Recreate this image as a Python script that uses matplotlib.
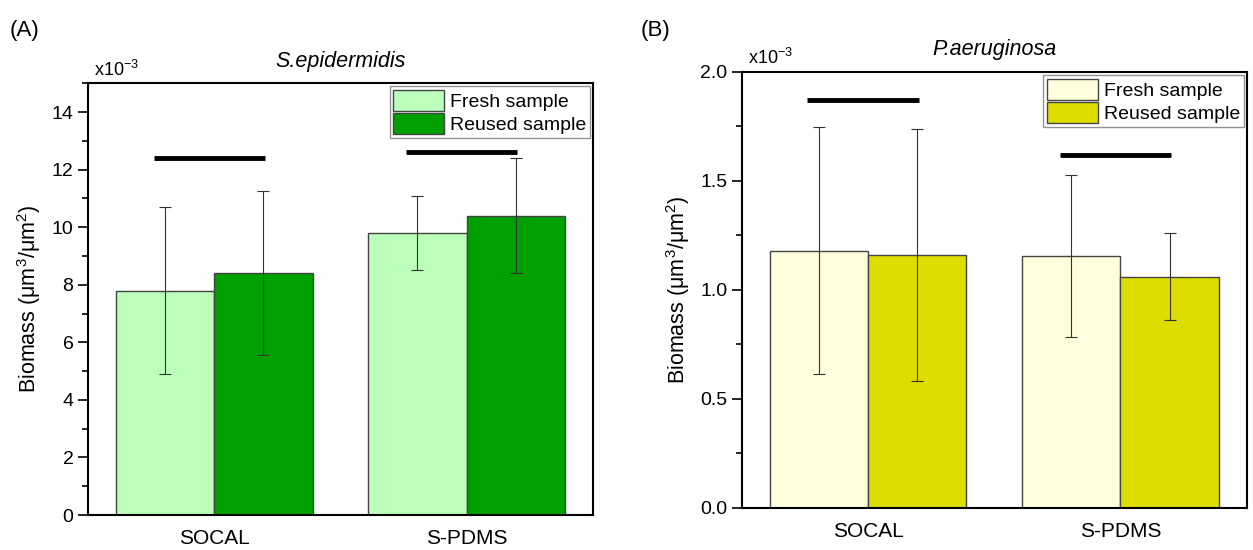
import numpy as np
import matplotlib.pyplot as plt
from matplotlib.ticker import MultipleLocator

plt.rcParams['font.family'] = ['Liberation Sans', 'DejaVu Sans']
plt.rcParams['mathtext.fontset'] = 'custom'
plt.rcParams['mathtext.rm'] = 'Liberation Sans'

categories = ["SOCAL", "S-PDMS"]
series = ["Fresh sample", "Reused sample"]

# S.epidermidis, biomass x1e-3 um3/um2
epi_fresh = [7.8, 9.8]
epi_fresh_err = [2.9, 1.3]
epi_reused = [8.4, 10.4]
epi_reused_err = [2.85, 2.0]
epi_sig = [12.4, 12.6]

# P.aeruginosa, biomass x1e-3 um3/um2
aer_fresh = [1.18, 1.155]
aer_fresh_err = [0.565, 0.37]
aer_reused = [1.16, 1.06]
aer_reused_err = [0.58, 0.2]
aer_sig = [1.87, 1.62]


def panel(ax, fresh, ferr, reused, rerr, sig, colors, title, ylim, major, minor, fmt):
    x = np.arange(len(categories))
    w = 0.39
    ax.bar(x - w / 2, fresh, w, color=colors[0], edgecolor="#444444", linewidth=1, label=series[0])
    ax.bar(x + w / 2, reused, w, color=colors[1], edgecolor="#444444", linewidth=1, label=series[1])
    ax.errorbar(x - w / 2, fresh, yerr=ferr, fmt="none", ecolor="#333333", elinewidth=0.8, capsize=4, capthick=0.8)
    ax.errorbar(x + w / 2, reused, yerr=rerr, fmt="none", ecolor="#333333", elinewidth=0.8, capsize=4, capthick=0.8)
    for xi, s in zip(x, sig):
        ax.plot([xi - 0.24, xi + 0.2], [s, s], color="black", linewidth=3.5, solid_capstyle="butt")
    ax.set_xlim(-0.5, 1.5)
    ax.set_ylim(*ylim)
    ax.set_xticks(x)
    ax.set_xticklabels(categories, fontsize=15)
    ax.tick_params(axis="x", length=0, pad=10)
    ax.yaxis.set_major_locator(MultipleLocator(major))
    ax.yaxis.set_minor_locator(MultipleLocator(minor))
    ax.yaxis.set_major_formatter(fmt)
    ax.tick_params(axis="y", which="major", direction="out", length=7, width=1.2, labelsize=14)
    ax.tick_params(axis="y", which="minor", direction="out", length=4, width=1.2)
    for sp in ax.spines.values():
        sp.set_linewidth(1.5)
    ax.set_ylabel("Biomass (μm$^3$/μm$^2$)", fontsize=15.5, labelpad=6)
    ax.set_title(title, fontsize=15.5, style="italic", pad=12)
    ax.text(0.012, 1.008, "x10$^{-3}$", transform=ax.transAxes, fontsize=13, ha="left", va="bottom")
    leg = ax.legend(loc="upper right", fontsize=14, frameon=True, fancybox=False,
                    edgecolor="#777777", borderaxespad=0.15, handlelength=2.6, handleheight=1.3,
                    labelspacing=0.1, handletextpad=0.3, borderpad=0.2)
    leg.get_frame().set_linewidth(1.0)


fig = plt.figure(figsize=(12.53, 5.5), dpi=100)
ax1 = fig.add_axes([0.0702, 0.0636, 0.403, 0.785])
ax2 = fig.add_axes([0.592, 0.0764, 0.403, 0.793])

panel(ax1, epi_fresh, epi_fresh_err, epi_reused, epi_reused_err, epi_sig,
      ["#BBFFBB", "#00A000"], "S.epidermidis", (0, 15), 2, 1, "{x:.0f}")
panel(ax2, aer_fresh, aer_fresh_err, aer_reused, aer_reused_err, aer_sig,
      ["#FFFFDD", "#DDDD00"], "P.aeruginosa", (0, 2.0), 0.5, 0.25, "{x:.1f}")

fig.text(0.008, 0.935, "(A)", fontsize=16)
fig.text(0.511, 0.935, "(B)", fontsize=16)

fig.savefig("out.png", dpi=100)
